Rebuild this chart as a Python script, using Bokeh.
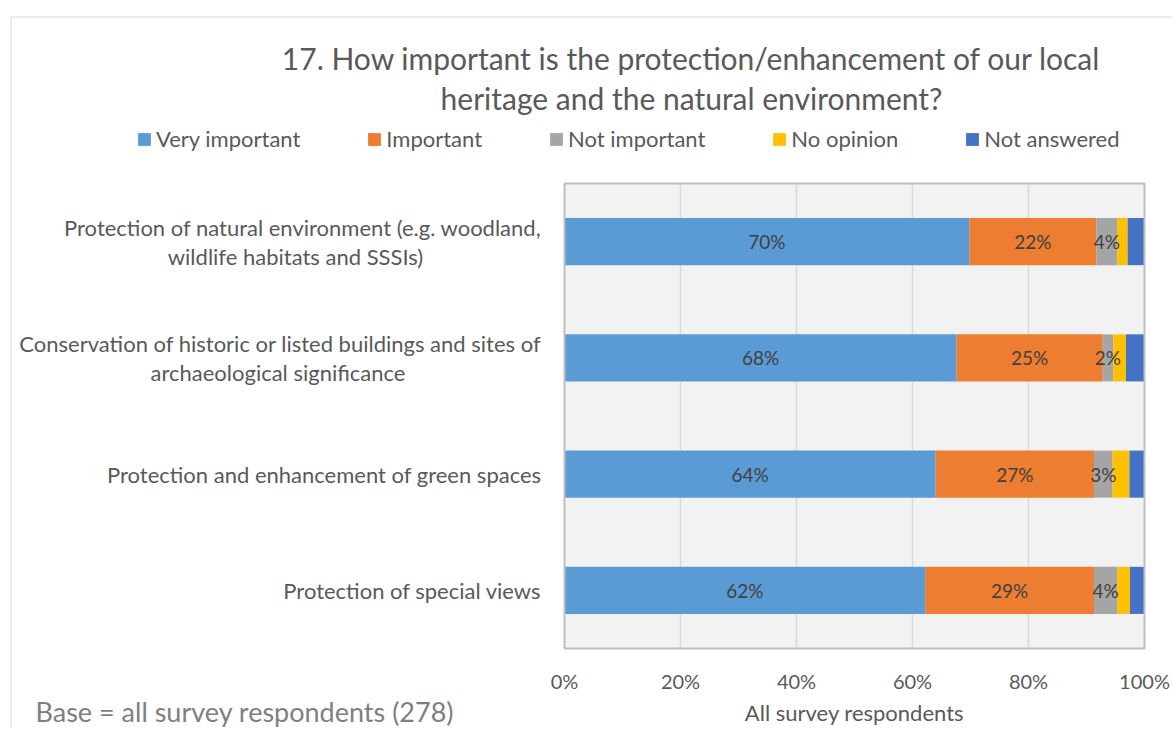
from bokeh.plotting import figure
from bokeh.models import Range1d, Legend, LegendItem, ColumnDataSource
from bokeh.core.properties import value
from bokeh.embed import file_html
from bokeh.resources import INLINE

# ---------------- data ----------------
title_lines = ["17. How important is the protection/enhancement of our local",
               "heritage and the natural environment?"]
category_lines = [
    ["Protection of natural environment (e.g. woodland,", "wildlife habitats and SSSIs)"],
    ["Conservation of historic or listed buildings and sites of", "archaeological significance"],
    ["Protection and enhancement of green spaces"],
    ["Protection of special views"],
]
series_names = ["Very important", "Important", "Not important", "No opinion", "Not answered"]
very_important = [69.8, 67.6, 64.0, 62.2]
important = [21.9, 25.2, 27.3, 29.1]
not_important = [3.6, 1.8, 3.2, 4.0]
no_opinion = [1.8, 2.2, 2.9, 2.2]
not_answered = [2.9, 3.2, 2.6, 2.5]
colors = ["#5B9BD5", "#ED7D31", "#A5A5A5", "#FFC000", "#4472C4"]
x_ticks = [0, 20, 40, 60, 80, 100]
x_title = "All survey respondents"
base_note = "Base = all survey respondents (278)"
labelled_series = 3  # data labels on the first three series

FONT = "Lato"
TXT = "#595959"

# ---------------- layout helpers (page pixels -> data units) ----------------
W, H, ORG = 1172, 727, 0
PX0, PX1 = 564.0, 1144.0          # page x of 0% and 100%
PY0, PY1 = 183.0, 648.0           # page y of plot-area top and bottom
NCAT = len(category_lines)
SX = (PX1 - PX0) / (x_ticks[-1] - x_ticks[0])
SY = (PY1 - PY0) / NCAT


def gx(px):
    return x_ticks[0] + (px - PX0) / SX


def gy(py):
    return (py - PY0) / SY


series = [very_important, important, not_important, no_opinion, not_answered]
keys = ["s%d" % i for i in range(len(series))]
ypos = [i + 0.5 for i in range(NCAT)]
data = {"y": ypos}
for k, s in zip(keys, series):
    data[k] = s
src = ColumnDataSource(data)

p = figure(width=W, height=H, x_range=Range1d(gx(ORG), gx(ORG + W)),
           y_range=Range1d(gy(ORG + H), gy(ORG)),
           output_backend="svg", toolbar_location=None,
           x_axis_location=None, y_axis_location=None, min_border=0)
p.outline_line_color = None
p.background_fill_color = "white"
p.border_fill_color = "white"
p.grid.visible = False


def txt(x, y, t, align="left", size="22px", color=TXT):
    p.text(x=x, y=y, text=t, text_align=align, text_baseline="middle",
           text_font=value(FONT), text_font_size=size, text_color=color)


# outer chart border (top and left edges visible)
p.segment(x0=[gx(10.5), gx(10.5)], y0=[gy(16.5), gy(16.5)],
          x1=[gx(1300), gx(10.5)], y1=[gy(16.5), gy(900)],
          line_color="#d9d9d9", line_width=1)

# plot area
p.quad(left=x_ticks[0], right=x_ticks[-1], top=0, bottom=NCAT,
       fill_color="#f2f2f2", line_color=None)
inner = x_ticks[1:-1]
p.segment(x0=inner, y0=[0] * len(inner), x1=inner, y1=[NCAT] * len(inner),
          line_color="#d9d9d9", line_width=1.5)

renderers = p.hbar_stack(keys, y="y", height=0.405, color=colors, line_color=None, source=src)

p.quad(left=x_ticks[0], right=x_ticks[-1], top=0, bottom=NCAT,
       fill_color=None, line_color="#bfbfbf", line_width=2)

# data labels
lx, ly, lt = [], [], []
for r in range(NCAT):
    cum = 0.0
    for si, s in enumerate(series):
        v = s[r]
        if si < labelled_series:
            lx.append(cum + v / 2)
            ly.append(ypos[r])
            lt.append("%d%%" % round(v))
        cum += v
p.text(x="x", y="y", text="t", source=ColumnDataSource(dict(x=lx, y=ly, t=lt)),
       text_align="center", text_baseline="middle", text_font=value(FONT),
       text_font_size="19px", text_color="#404040")

# x tick labels
p.text(x=x_ticks, y=[gy(680)] * len(x_ticks), text=["%d%%" % t for t in x_ticks],
       text_align="center", text_baseline="middle", text_font=value(FONT),
       text_font_size="20px", text_color=TXT)

# category labels (block right-aligned, wrapped lines centred)
line_gap = 14.5 / SY
centers_2line = {0: gx(295), 1: gx(277.5)}
for i, lines in enumerate(category_lines):
    if len(lines) == 1:
        txt([gx(541)], [ypos[i]], [lines[0]], align="right")
    else:
        txt([gx(541)], [ypos[i] - line_gap], [lines[0]], align="right")
        txt([centers_2line[i]], [ypos[i] + line_gap], [lines[1]], align="center")

# title
txt([gx(691)] * 2, [gy(57), gy(97)], title_lines, align="center", size="30px")

# axis title and base note
txt([(x_ticks[0] + x_ticks[-1]) / 2], [gy(712)], [x_title], align="center", size="22px")
txt([gx(35)], [gy(711)], [base_note], align="left", size="27px", color="#7f7f7f")

# legend
legend = Legend(items=[LegendItem(label=n, renderers=[r]) for n, r in zip(series_names, renderers)],
                orientation="horizontal", location=(136 - ORG, ORG + H - 152),
                glyph_width=16, glyph_height=16, label_standoff=4, spacing=66,
                padding=0, margin=0, border_line_color=None, background_fill_alpha=0,
                label_text_font=FONT, label_text_font_size="22px", label_text_color=TXT)
p.add_layout(legend)

open("out.html", "w").write(file_html(p, INLINE))
